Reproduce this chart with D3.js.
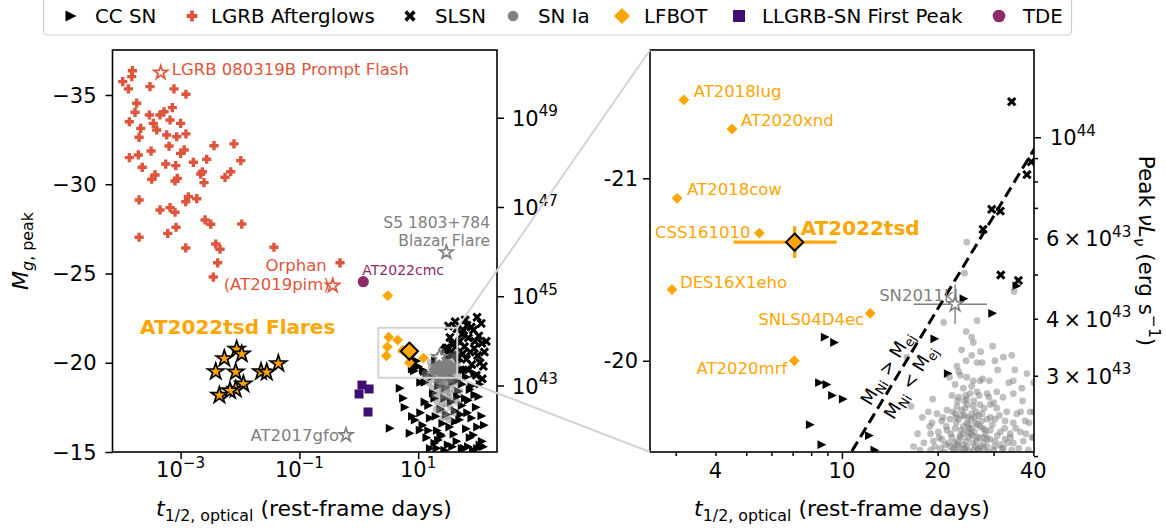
<!DOCTYPE html>
<html>
<head>
<meta charset="utf-8">
<script src="https://cdn.jsdelivr.net/npm/d3@7/dist/d3.min.js"></script>
<style>
  html, body { margin: 0; padding: 0; background: #fff; }
  svg text { font-family: "DejaVu Sans", "Liberation Sans", Arial, sans-serif; }
</style>
</head>
<body>
<svg id="chart" width="1166" height="531"></svg>
<script>
// ---------------------------------------------------------------------------
// Transient samples: each entry is [t_1/2 (rest-frame days), peak M_g]
// ---------------------------------------------------------------------------
const ccSN = [
  [8.86,-20.13],[9.48,-20.10],[8.5,-19.88],[8.97,-19.87],[9.34,-19.81],[10.1,-19.79],
  [7.95,-19.65],[8.65,-19.54],[24.2,-20.34],[29.8,-20.26],[19.6,-20.12],[21.6,-19.93],
  [12.2,-19.59],[12.7,-19.51],[35.5,-20.41],
  [4.97,-18.57],[5.65,-18.01],[3.37,-16.33],[8.9,-16.79],[7.3,-16.05],[10.8,-16.23],
  [22,-15.67],[20.7,-15.21],[126,-15.3],[85.7,-15.95],[118,-17.02],
  [6,-17.5],[8,-17.0],[11,-17.2],[12,-16.5],[13,-18.9],[14,-15.8],[15,-17.6],[16,-16.9],
  [17,-19.2],[18,-18.3],[19,-15.5],[20,-17.0],[21,-16.2],[22,-18.7],[24,-17.4],[25,-15.9],
  [26,-16.6],[28,-18.0],[30,-17.1],[32,-15.4],[34,-16.4],[36,-17.8],[38,-18.9],[40,-16.0],
  [42,-17.3],[45,-15.6],[48,-18.4],[50,-16.8],[55,-17.6],[60,-15.2],[65,-16.3],[70,-17.9],
  [75,-15.8],[80,-16.9],[90,-18.2],[100,-16.4],[110,-15.4],[27,-19.3],[33,-19.4],[45,-19.0],
  [55,-18.8],[65,-19.2],[75,-18.5],[95,-17.5],[105,-18.1],[60,-19.6],[50,-20.1],[44,-20.5],
  [16,-15.2],[28,-15.1],[38,-15.3],[55,-15.2],[70,-15.3],[85,-15.1],[100,-15.2],[120,-15.6],
  [11,-18.9],[14,-19.3],[13,-17.8],[19,-18.0],[23,-19.0],[29,-18.6],[35,-19.2],[52,-17.1],
  [62,-18.0],[80,-18.7],[90,-19.4],[110,-18.8],[130,-16.5],[68,-17.2],[42,-16.7],[24,-16.0],
  [15,-16.2],[46,-18.1]
];

const lgrbAfterglows = [
  [1.54e-4,-36.36],[1.50e-4,-36.03],[1.06e-4,-35.75],[1.32e-4,-35.34],[3.05e-4,-35.47],
  [7.74e-4,-35.34],[1.23e-3,-35.04],[1.82e-4,-34.54],[1.71e-4,-34.03],[7.25e-4,-34.29],
  [5.26e-4,-34.06],[2.97e-4,-33.88],[4.50e-4,-33.88],[1.37e-4,-33.50],[2.13e-4,-33.13],
  [3.47e-4,-33.41],[6.64e-4,-33.60],[1.00e-3,-33.41],[3.96e-4,-33.04],[5.83e-4,-32.76],
  [8.59e-4,-32.66],[1.23e-3,-32.82],[2.00e-4,-32.63],[6.38e-4,-32.14],[3.65e-3,-32.16],
  [7.92e-3,-32.26],[1.15e-3,-31.92],[1.00e-3,-31.73],[3.18e-4,-31.86],[1.94e-4,-31.64],
  [1.37e-4,-31.49],[2.75e-3,-31.40],[1.03e-2,-31.32],[5.61e-4,-31.13],[8.28e-4,-31.04],
  [1.64e-3,-31.23],[2.26e-4,-30.95],[2.32e-3,-30.70],[2.18e-3,-30.57],[6.97e-3,-30.70],
  [5.59e-3,-30.39],[3.71e-4,-30.52],[3.26e-4,-30.28],[8.80e-4,-30.33],[8.05e-4,-30.18],
  [2.48e-3,-30.09],[2.00e-4,-29.12],[1.35e-3,-29.30],[1.87e-3,-29.19],[1.22e-3,-29.02],
  [4.50e-4,-28.56],[6.64e-4,-28.69],[8.05e-4,-28.43],[2.58e-3,-28.00],[3.21e-3,-27.76],
  [1.07e-2,-27.77],[8.37e-4,-27.59],[6.07e-4,-27.25],[2.00e-4,-27.03],[1.22e-3,-26.43],
  [3.90e-3,-26.65],[4.61e-3,-26.36],[3.73e-2,-26.47],[0.483,-25.6],[3.54e-3,-24.8],
  [4.2e-3,-25.6]
];

const slsn = [
  [34.2,-21.42],[38.2,-21.02],[39.4,-21.09],[29.6,-20.83],[31.5,-20.82],[27.8,-20.72],
  [31.6,-20.47],[35.9,-20.44],
  [98,-22.55],[66,-22.1],[32.4,-22.06],[85,-21.83],[118,-21.09],[45,-21.9],[55,-21.6],
  [70,-21.4],[90,-21.2],[60,-20.9],[75,-20.6],[100,-20.4],[50,-21.2],[110,-20.0],[80,-19.9],
  [65,-20.2],[130,-20.6],[42,-22.3],[43,-20.9],[48,-20.3],[52,-19.6],[58,-21.8],[105,-21.5],
  [125,-19.8],[95,-19.3],[70,-19.6],[140,-21.2],[62,-22.4],[78,-22.0],[115,-22.2],[88,-20.8],
  [56,-20.5],[120,-19.1]
];

const snIa = [
  [24.7,-20.65],[24.3,-20.48],[34.8,-20.38],[20.9,-20.21],[26.6,-20.22],[24.6,-20.16],
  [25.6,-20.13],[25.9,-20.10],[23.8,-20.06],[25.6,-20.03],[32.2,-20.02],[34.2,-20.03],
  [30.3,-20.00],[23.0,-19.97],[24.6,-20.00],[26.6,-19.99],[27.6,-19.99],[16.0,-20.02],
  [23.3,-19.94],[24.7,-19.91],[25.9,-19.89],[27.2,-19.89],[29.1,-19.89],[34.6,-19.89],
  [36.8,-19.85],[22.7,-19.87],[24.1,-19.85],[25.6,-19.86],[26.6,-19.83],[28.6,-19.82],
  [30.7,-19.83],[32.1,-19.80],[34.6,-19.82],[22.2,-19.81],[23.3,-19.80],[24.7,-19.79],
  [18.7,-19.72],[19.9,-19.71],[21.4,-19.73],[23.0,-19.75],[24.4,-19.74],[25.9,-19.75],
  [27.2,-19.76],[29.3,-19.76],[30.7,-19.74],[33.0,-19.72],[35.5,-19.71],[39.1,-19.72],
  [19.2,-19.66],[20.6,-19.67],[21.9,-19.68],[23.3,-19.68],[25.0,-19.69],[26.9,-19.70],
  [28.6,-19.68],[30.3,-19.68],[32.6,-19.67],[34.6,-19.66],[37.7,-19.67],[19.0,-19.60],
  [20.1,-19.61],[21.4,-19.62],[22.7,-19.63],[24.1,-19.64],[25.6,-19.63],[27.2,-19.64],
  [29.3,-19.62],[31.5,-19.61],[33.8,-19.60],[36.4,-19.61],[39.6,-19.58],[18.1,-19.55],
  [19.4,-19.56],[20.6,-19.57],[22.2,-19.58],[23.6,-19.58],[25.0,-19.58],[26.6,-19.58],
  [28.6,-19.57],[30.3,-19.56],[32.6,-19.57],[34.6,-19.55],[37.2,-19.56],[17.6,-19.51],
  [19.0,-19.51],[20.4,-19.52],[21.9,-19.53],[23.3,-19.53],[24.7,-19.53],[26.3,-19.53],
  [27.9,-19.52],[30.0,-19.51],[32.2,-19.52],[34.2,-19.51],[38.6,-19.51],
  [23.9,-19.70],[25.4,-19.60],[23.2,-19.56],[26.3,-19.66],[21.1,-19.54],[28.2,-19.62],
  [24.5,-19.81],[25.0,-19.65],[22.3,-19.72],[29.3,-19.69],[31.5,-19.54],[40.1,-19.88],
  [40.1,-19.58],[40.1,-19.72],
  [21.0,-19.50],[21.6,-19.55],[22.0,-19.60],[22.5,-19.52],[22.9,-19.66],[23.4,-19.50],
  [23.7,-19.62],[24.0,-19.54],[24.3,-19.70],[24.6,-19.56],[24.9,-19.61],[25.2,-19.50],
  [25.5,-19.68],[25.8,-19.55],[26.1,-19.61],[26.4,-19.72],[26.8,-19.52],[27.1,-19.58],
  [27.5,-19.67],[27.9,-19.55],[28.3,-19.60],[28.8,-19.50],[29.2,-19.57],[29.7,-19.65],
  [30.2,-19.53],[30.8,-19.59],[31.3,-19.70],[31.9,-19.52],[32.5,-19.63],[33.2,-19.55],
  [21.3,-19.64],[22.8,-19.71],[23.1,-19.78],[24.8,-19.76],[25.3,-19.82],[26.0,-19.78],
  [27.0,-19.81],[28.0,-19.74],[29.0,-19.80],[30.0,-19.77],[20.2,-19.58],[20.8,-19.69],
  [19.6,-19.53],[18.9,-19.64],[22.4,-19.51],[24.2,-19.51],[26.9,-19.51],[28.6,-19.53],
  [33.9,-19.58],[35.2,-19.63],[36.0,-19.52],[37.9,-19.60],[38.8,-19.66],[17.3,-19.60],
  [16.8,-19.53],[27.7,-19.90],[23.6,-19.92],[30.9,-19.95],[35.0,-19.95],[37.0,-19.78],
  [19.3,-19.79],[17.9,-19.69],[16.5,-19.75],[21.8,-19.91],[33.5,-19.88],[36.5,-19.72],
  [29.8,-20.08],[27.3,-20.05],[38.2,-19.93],
  [22.6,-19.55],[23.5,-19.59],[24.4,-19.52],[25.1,-19.63],[25.9,-19.51],[26.5,-19.56],
  [27.3,-19.53],[28.0,-19.58],[22.9,-19.69],[23.8,-19.73],[24.7,-19.66],[25.6,-19.71],
  [26.7,-19.65],[27.6,-19.71],[24.1,-19.60],[25.7,-19.59],[23.0,-19.54],[26.2,-19.69],
  [27.8,-19.63],[24.3,-19.78],
  [18,-19.4],[22,-19.45],[25,-19.3],[28,-19.4],[32,-19.35],[20,-19.2],[24,-19.15],[27,-19.25],
  [30,-19.1],[35,-19.2],[16,-19.3],[19,-19.0],[23,-18.95],[26,-19.05],[29,-18.9],[33,-19.0],
  [38,-19.1],[21,-18.8],[25,-18.7],[28,-18.75],[31,-18.6],[36,-18.8],[17,-18.6],[22,-18.5],
  [26,-18.4],[30,-18.45],[34,-18.3],[40,-18.5],[19,-18.2],[24,-18.15],[27,-18.0],[32,-18.1],
  [37,-17.9],[21,-17.8],[25,-17.6],[29,-17.7],[35,-17.5],[23,-17.3],[28,-17.2],[31,-17.0],
  [26,-16.9],[44,-18.9],[48,-19.2],[42,-19.4],[15,-18.9],[14,-19.2],[13,-19.4],[20,-17.4],
  [33,-16.8],[45,-17.8],[39,-17.2],[50,-18.4],[42,-20.3],[46,-19.9],[44,-20.6],
  [23,-19.35],[27,-19.45],[30,-19.3],[21,-19.1],[25,-18.9],[28,-19.15]
];

// Luminous fast blue optical transients (LFBOTs)
const lfbot = [
  { name: "AT2018lug",  t: 3.18,  M: -21.43 },
  { name: "AT2020xnd",  t: 4.51,  M: -21.27 },
  { name: "AT2018cow",  t: 3.03,  M: -20.89 },
  { name: "CSS161010",  t: 5.5,   M: -20.70 },
  { name: "DES16X1eho", t: 2.92,  M: -20.39 },
  { name: "SNLS04D4ec", t: 12.27, M: -20.26 },
  { name: "AT2020mrf",  t: 7.08,  M: -20.00 },
  { name: "",           t: 3.07,  M: -23.76 }
];

// AT2022tsd main light curve with its uncertainties
const at2022tsd = { name: "AT2022tsd", t: 7.1, tLo: 4.56, tHi: 9.62, M: -20.65, Merr: 0.087 };

// AT2022tsd flares
const tsdFlares = [
  [8.79e-3,-20.75],[1.07e-2,-20.49],[5.45e-3,-20.23],[3.90e-3,-19.50],[8.47e-3,-19.48],
  [2.26e-2,-19.50],[2.82e-2,-19.47],[4.42e-2,-19.95],[1.14e-2,-18.81],[8.47e-3,-18.51],
  [6.79e-3,-18.43],[4.49e-3,-18.18]
];

const llgrbFirstPeak = [[1.13,-18.75],[1.49,-18.53],[1.01,-18.25],[1.43,-17.24]];

const tde = [{ name: "AT2022cmc", t: 1.19, M: -24.54 }];

// Individually highlighted events (drawn as open stars)
const namedEvents = [
  { name: "LGRB 080319B Prompt Flash", t: 4.62e-4, M: -36.25, kind: "lgrb" },
  { name: "Orphan|(AT2019pim)",        t: 0.364,   M: -24.32, kind: "lgrb" },
  { name: "S5 1803+784|Blazar Flare",  t: 29.8,    M: -26.19, kind: "other" },
  { name: "AT2017gfo",                 t: 0.609,   M: -15.95, kind: "other" }
];
const sn2011kl = { name: "SN2011kl", t: 22.7, tLo: 16.8, tHi: 28.6, M: -20.31, Merr: 0.107 };

// Boundary between Ni-powered and ejecta-limited regimes
const niEjectaLine = [[9.5,-19.35],[45,-21.30]];

// Region of the overview panel that is enlarged on the right
const zoomRegion = { t: [2.13, 45.5], M: [-19.16, -21.96] };

// Axis ticks
const leftMagTicks  = [-35, -30, -25, -20, -15];
const leftTimeTicks = [1e-3, 1e-1, 1e1];
const leftLumTicks  = [1e43, 1e45, 1e47, 1e49];
const rightMagTicks = [-21, -20];
const rightTimeTicks = [3, 4, 5, 6, 7, 8, 9, 10, 20, 30, 40];
const rightTimeLabels = { 4: "4", 10: "10", 20: "20", 40: "40" };
const rightLumTicks = [2e43, 3e43, 4e43, 5e43, 6e43, 7e43, 8e43, 9e43, 1e44];
const rightLumLabels = { 3e43: "3", 4e43: "4", 6e43: "6", 1e44: "" };

const legendItems = ["CC SN", "LGRB Afterglows", "SLSN", "SN Ia", "LFBOT", "LLGRB-SN First Peak", "TDE"];

// ---------------------------------------------------------------------------
const svg = d3.select("#chart");
const COL = {
  lgrb: "#df553c", gray: "#808080", orange: "#ffa500",
  llgrb: "#3f0f72", tde: "#8e2a6a", inset: "#d3d3d3"
};
const FS = { tick: 21, label: 22, legend: 19.8, ann: 16.5, bold: 20 };

// peak nu L_nu (erg/s) from absolute g magnitude
const LUM_ZP = 35.51;
const magToLum = m => Math.pow(10, LUM_ZP - 0.4 * m);

// marker shapes
const triRight = s => `M${s},0L${-s},${-s}L${-s},${s}Z`;
const plusPath = (a, b) => `M${-b},${-a}H${b}V${-b}H${a}V${b}H${b}V${a}H${-b}V${b}H${-a}V${-b}H${-b}Z`;
function xPath(a, b) {
  const pts = [[-b,-a],[b,-a],[b,-b],[a,-b],[a,b],[b,b],[b,a],[-b,a],[-b,b],[-a,b],[-a,-b],[-b,-b]];
  const c = Math.SQRT1_2;
  return "M" + pts.map(([x, y]) => `${(x - y) * c},${(x + y) * c}`).join("L") + "Z";
}
function starPath(R) {
  const r = R * 0.382, p = [];
  for (let i = 0; i < 10; i++) {
    const a = -Math.PI / 2 + i * Math.PI / 5, rr = i % 2 ? r : R;
    p.push(`${rr * Math.cos(a)},${rr * Math.sin(a)}`);
  }
  return "M" + p.join("L") + "Z";
}
const diamond = d => `M0,${-d}L${d},0L0,${d}L${-d},0Z`;
const square = s => `M${-s / 2},${-s / 2}h${s}v${s}h${-s}Z`;
const disc = r => `M${r},0A${r},${r} 0 1 1 ${-r},0A${r},${r} 0 1 1 ${r},0Z`;

// text with italics / sub- and superscripts
function rich(parent, x, y, segs, fs, opts = {}) {
  const t = parent.append("text").attr("x", x).attr("y", y).attr("font-size", fs)
    .attr("text-anchor", opts.anchor || "start").attr("fill", opts.fill || "#000");
  if (opts.weight) t.attr("font-weight", opts.weight);
  if (opts.transform) t.attr("transform", opts.transform);
  let shift = 0;
  segs.forEach(([s, mode = ""]) => {
    const sub = mode.includes("sub"), sup = mode.includes("sup");
    const target = sub ? 0.24 * fs : sup ? -0.45 * fs : 0;
    const ts = t.append("tspan").text(s).attr("font-size", (sub || sup) ? fs * 0.72 : fs)
      .attr("dy", target - shift);
    if (mode.includes("it")) ts.attr("font-style", "italic");
    shift = target;
  });
  return t;
}

function makePanel(id, box, xDom, yDom) {
  const x = d3.scaleLog().domain(xDom).range([box.x0, box.x1]);
  const y = d3.scaleLinear().domain(yDom).range([box.y1, box.y0]);
  const yL = d3.scaleLog().domain(yDom.map(magToLum)).range([box.y1, box.y0]);
  svg.append("clipPath").attr("id", id).append("rect")
    .attr("x", box.x0).attr("y", box.y0).attr("width", box.x1 - box.x0).attr("height", box.y1 - box.y0);
  const plot = svg.append("g").attr("clip-path", `url(#${id})`);
  return { x, y, yL, box, plot };
}

function scatter(p, data, d, style) {
  p.plot.append("g").selectAll("path").data(data).join("path")
    .attr("d", d)
    .attr("transform", v => `translate(${p.x(v[0])},${p.y(v[1])})`)
    .attr("fill", style.fill || "none")
    .attr("fill-opacity", style.opacity ?? 1)
    .attr("stroke", style.stroke || "none")
    .attr("stroke-width", style.sw || 0)
    .attr("stroke-linejoin", "miter");
}

function drawSamples(p) {
  scatter(p, lgrbAfterglows, plusPath(4.6, 1.7), { fill: COL.lgrb });
  scatter(p, ccSN, triRight(4.4), { fill: "#000" });
  scatter(p, slsn, xPath(5.2, 1.5), { fill: "#000" });
  p.plot.append("g").selectAll("circle").data(snIa).join("circle")
    .attr("cx", v => p.x(v[0])).attr("cy", v => p.y(v[1])).attr("r", 3.4)
    .attr("fill", COL.gray).attr("fill-opacity", 0.5);
  // SN2011kl with uncertainties
  const g11 = p.plot.append("g");
  g11.append("line").attr("x1", p.x(sn2011kl.tLo)).attr("x2", p.x(sn2011kl.tHi))
    .attr("y1", p.y(sn2011kl.M)).attr("y2", p.y(sn2011kl.M)).attr("stroke", COL.gray).attr("stroke-width", 1.4);
  g11.append("line").attr("x1", p.x(sn2011kl.t)).attr("x2", p.x(sn2011kl.t))
    .attr("y1", p.y(sn2011kl.M - sn2011kl.Merr)).attr("y2", p.y(sn2011kl.M + sn2011kl.Merr))
    .attr("stroke", COL.gray).attr("stroke-width", 1.4);
  scatter(p, [[sn2011kl.t, sn2011kl.M]], starPath(8), { fill: "#fff", stroke: COL.gray, sw: 1.6 });

  scatter(p, llgrbFirstPeak, square(9), { fill: COL.llgrb });
  scatter(p, tde.map(d => [d.t, d.M]), disc(5.6), { fill: COL.tde });
  scatter(p, lfbot.map(d => [d.t, d.M]), diamond(5.4), { fill: COL.orange });
  scatter(p, tsdFlares, starPath(8.6), { fill: COL.orange, stroke: "#000", sw: 1.7 });
  namedEvents.forEach(e => {
    scatter(p, [[e.t, e.M]], starPath(7.2),
      { fill: "#fff", stroke: e.kind === "lgrb" ? COL.lgrb : COL.gray, sw: 1.7 });
  });
  // AT2022tsd with error bars
  const gt = p.plot.append("g");
  gt.append("line").attr("x1", p.x(at2022tsd.tLo)).attr("x2", p.x(at2022tsd.tHi))
    .attr("y1", p.y(at2022tsd.M)).attr("y2", p.y(at2022tsd.M)).attr("stroke", COL.orange).attr("stroke-width", 3.4);
  gt.append("line").attr("x1", p.x(at2022tsd.t)).attr("x2", p.x(at2022tsd.t))
    .attr("y1", p.y(at2022tsd.M - at2022tsd.Merr)).attr("y2", p.y(at2022tsd.M + at2022tsd.Merr))
    .attr("stroke", COL.orange).attr("stroke-width", 3.4);
  scatter(p, [[at2022tsd.t, at2022tsd.M]], diamond(8.6), { fill: COL.orange, stroke: "#000", sw: 2 });
}

function spines(p) {
  const b = p.box;
  svg.append("rect").attr("x", b.x0).attr("y", b.y0).attr("width", b.x1 - b.x0).attr("height", b.y1 - b.y0)
    .attr("fill", "none").attr("stroke", "#000").attr("stroke-width", 1.6);
}

function ticks(axisFn, scale, values, size, tx, ty) {
  const g = svg.append("g").attr("transform", `translate(${tx},${ty})`)
    .call(axisFn(scale).tickValues(values).tickSize(size).tickFormat(""));
  g.select(".domain").remove();
  g.selectAll(".tick line").attr("stroke", "#000").attr("stroke-width", 1.5);
  return g;
}

// ---------------------------------------------------------------------------
// Overview panel
const L = makePanel("clipL", { x0: 112.5, x1: 497, y0: 50, y1: 452 }, [7.13e-5, 212.3], [-15, -37.52]);
drawSamples(L);

// enlarged region outline
L.plot.append("rect")
  .attr("x", L.x(zoomRegion.t[0])).attr("y", L.y(zoomRegion.M[1]))
  .attr("width", L.x(zoomRegion.t[1]) - L.x(zoomRegion.t[0]))
  .attr("height", L.y(zoomRegion.M[0]) - L.y(zoomRegion.M[1]))
  .attr("fill", "none").attr("stroke", COL.inset).attr("stroke-width", 2);

// annotations, overview panel
const annL = svg.append("g").attr("font-size", FS.ann);
{
  const e0 = namedEvents[0];
  annL.append("text").attr("x", L.x(e0.t) + 11).attr("y", L.y(e0.M) + 2).attr("fill", COL.lgrb).text(e0.name);
  const e1 = namedEvents[1], [o1, o2] = e1.name.split("|");
  annL.append("text").attr("x", L.x(e1.t) - 6).attr("y", L.y(e1.M) - 15).attr("text-anchor", "end")
    .attr("fill", COL.lgrb).text(o1);
  annL.append("text").attr("x", L.x(e1.t) - 3).attr("y", L.y(e1.M) + 4).attr("text-anchor", "end")
    .attr("fill", COL.lgrb).text(o2);
  const e2 = namedEvents[2], [s1, s2] = e2.name.split("|");
  annL.append("text").attr("x", 490).attr("y", L.y(e2.M) - 24).attr("text-anchor", "end")
    .attr("font-size", 15.5).attr("fill", COL.gray).text(s1);
  annL.append("text").attr("x", 490).attr("y", L.y(e2.M) - 6).attr("text-anchor", "end")
    .attr("font-size", 15.5).attr("fill", COL.gray).text(s2);
  const e3 = namedEvents[3];
  annL.append("text").attr("x", L.x(e3.t) - 7).attr("y", L.y(e3.M) + 6).attr("text-anchor", "end")
    .attr("fill", COL.gray).text(e3.name);
  annL.append("text").attr("x", L.x(tde[0].t) - 1).attr("y", L.y(tde[0].M) - 7)
    .attr("fill", COL.tde).attr("font-size", 14).text(tde[0].name);
  annL.append("text").attr("x", 140).attr("y", 334).attr("fill", COL.orange)
    .attr("font-weight", "bold").attr("font-size", FS.bold).text("AT2022tsd Flares");
}
spines(L);

// overview axes
ticks(d3.axisLeft, L.y, leftMagTicks, 7, L.box.x0, 0);
leftMagTicks.forEach(v => svg.append("text").attr("x", L.box.x0 - 16).attr("y", L.y(v)).attr("dy", "0.36em")
  .attr("text-anchor", "end").attr("font-size", FS.tick).text("\u2212" + Math.abs(v)));
ticks(d3.axisBottom, L.x, leftTimeTicks, 7, 0, L.box.y1);
leftTimeTicks.forEach(v => {
  const e = Math.round(Math.log10(v));
  rich(svg, L.x(v), 477, [["10"], [(e < 0 ? "\u2212" : "") + Math.abs(e), "sup"]], FS.tick, { anchor: "middle" });
});
ticks(d3.axisRight, L.yL, leftLumTicks, 7, L.box.x1, 0);
leftLumTicks.forEach(v => {
  const e = Math.round(Math.log10(v));
  rich(svg, L.box.x1 + 15, L.yL(v) + 8, [["10"], [String(e), "sup"]], FS.tick);
});
rich(svg, 304, 516, [["t", "it"], ["1/2, optical", "sub"], [" (rest-frame days)"]], FS.label, { anchor: "middle" });
rich(svg, 0, 0, [["M", "it"], ["g", "sub it"], [", peak", "sub"]], FS.label,
  { anchor: "middle", transform: "translate(28,251) rotate(-90)" });

// ---------------------------------------------------------------------------
// Enlarged panel
const R = makePanel("clipR", { x0: 650, x1: 1034, y0: 50, y1: 452 }, [2.49, 40.2], [-19.5, -21.703]);
drawSamples(R);

// Ni / ejecta mass boundary
R.plot.append("path")
  .attr("d", d3.line().x(v => R.x(v[0])).y(v => R.y(v[1]))(niEjectaLine))
  .attr("fill", "none").attr("stroke", "#000").attr("stroke-width", 3).attr("stroke-dasharray", "11,5.5");
{
  const [a, b] = niEjectaLine;
  const ax = R.x(a[0]), ay = R.y(a[1]), bx = R.x(b[0]), by = R.y(b[1]);
  const ang = Math.atan2(by - ay, bx - ax) * 180 / Math.PI;
  const tMid = 15.0, frac = (Math.log10(tMid) - Math.log10(a[0])) / (Math.log10(b[0]) - Math.log10(a[0]));
  const mx = ax + frac * (bx - ax), my = ay + frac * (by - ay);
  const g = svg.append("g").attr("transform", `translate(${mx},${my}) rotate(${ang})`);
  rich(g, 0, -7, [["M"], ["Ni", "sub"], [" > "], ["M"], ["ej", "sub"]], 18, { anchor: "middle" });
  rich(g, 0, 20, [["M"], ["Ni", "sub"], [" < "], ["M"], ["ej", "sub"]], 18, { anchor: "middle" });
}

// LFBOT labels
const labelPlacement = {
  "AT2018lug":  { dx: 10, dy: -3,  anchor: "start" },
  "AT2020xnd":  { dx: 9,  dy: -3,  anchor: "start" },
  "AT2018cow":  { dx: 10, dy: -3,  anchor: "start" },
  "CSS161010":  { dx: -9, dy: 5,   anchor: "end" },
  "DES16X1eho": { dx: 8,  dy: -2,  anchor: "start" },
  "SNLS04D4ec": { dx: -6, dy: 12,  anchor: "end" },
  "AT2020mrf":  { dx: -7, dy: 13,  anchor: "end" }
};
const annR = svg.append("g").attr("font-size", FS.ann).attr("fill", COL.orange);
lfbot.filter(d => labelPlacement[d.name]).forEach(d => {
  const pl = labelPlacement[d.name];
  annR.append("text").attr("x", R.x(d.t) + pl.dx).attr("y", R.y(d.M) + pl.dy)
    .attr("text-anchor", pl.anchor).text(d.name);
});
annR.append("text").attr("x", R.x(at2022tsd.t) + 6).attr("y", R.y(at2022tsd.M) - 7)
  .attr("font-weight", "bold").attr("font-size", FS.bold).text(at2022tsd.name);
svg.append("text").attr("x", R.x(sn2011kl.t) + 3).attr("y", R.y(sn2011kl.M) - 3)
  .attr("text-anchor", "end").attr("font-size", FS.ann).attr("fill", COL.gray).text(sn2011kl.name);
spines(R);

// enlarged panel axes
ticks(d3.axisLeft, R.y, rightMagTicks, 7, R.box.x0, 0);
rightMagTicks.forEach(v => svg.append("text").attr("x", R.box.x0 - 12).attr("y", R.y(v)).attr("dy", "0.36em")
  .attr("text-anchor", "end").attr("font-size", FS.tick).text(String(v)));
ticks(d3.axisBottom, R.x, rightTimeTicks.filter(v => v === 10), 7, 0, R.box.y1);
ticks(d3.axisBottom, R.x, rightTimeTicks.filter(v => v !== 10), 4, 0, R.box.y1);
rightTimeTicks.filter(v => rightTimeLabels[v]).forEach(v =>
  svg.append("text").attr("x", R.x(v)).attr("y", 478).attr("text-anchor", "middle")
    .attr("font-size", FS.tick).text(rightTimeLabels[v]));
ticks(d3.axisRight, R.yL, rightLumTicks.filter(v => v === 1e44), 7, R.box.x1, 0);
ticks(d3.axisRight, R.yL, rightLumTicks.filter(v => v !== 1e44), 4, R.box.x1, 0);
rightLumTicks.filter(v => v in rightLumLabels).forEach(v => {
  const m = rightLumLabels[v];
  if (m === "") rich(svg, R.box.x1 + 16, R.yL(v) + 8, [["10"], ["44", "sup"]], FS.tick);
  else rich(svg, R.box.x1 + 12, R.yL(v) + 8, [[m + "\u2009\u00d7\u200910"], ["43", "sup"]], FS.tick);
});
rich(svg, 842, 516, [["t", "it"], ["1/2, optical", "sub"], [" (rest-frame days)"]], FS.label, { anchor: "middle" });
rich(svg, 0, 0, [["Peak "], ["\u03bd", "it"], ["L", "it"], ["\u03bd", "sub it"], [" (erg s"], ["\u22121", "sup"], [")"]],
  21.5, { anchor: "middle", transform: "translate(1139,251) rotate(90)" });

// connectors from the outlined region to the enlarged panel
const cx = L.x(zoomRegion.t[1]);
[[L.y(zoomRegion.M[1]), R.box.y0], [L.y(zoomRegion.M[0]), R.box.y1]].forEach(([y1, y2]) =>
  svg.append("line").attr("x1", cx).attr("y1", y1).attr("x2", R.box.x0).attr("y2", y2)
    .attr("stroke", COL.inset).attr("stroke-width", 2));

// ---------------------------------------------------------------------------
// Legend
const lg = svg.append("g");
lg.append("rect").attr("x", 43.5).attr("y", -6).attr("width", 1028).attr("height", 41).attr("rx", 4)
  .attr("fill", "#fff").attr("fill-opacity", 0.85).attr("stroke", "#cccccc").attr("stroke-width", 1.2);
const legendMarks = [
  { d: triRight(5.5), fill: "#000" },
  { d: plusPath(5.4, 1.9), fill: COL.lgrb },
  { d: xPath(6.2, 1.8), fill: "#000" },
  { d: disc(5.3), fill: COL.gray },
  { d: diamond(8), fill: COL.orange },
  { d: square(12), fill: COL.llgrb },
  { d: disc(6.3), fill: COL.tde }
];
const legendSlots = [[71, 95], [192, 211], [410, 435], [513, 538], [622, 644], [739, 762], [999, 1023]];
legendItems.forEach((name, i) => {
  const [mx, tx] = legendSlots[i];
  lg.append("path").attr("d", legendMarks[i].d).attr("fill", legendMarks[i].fill)
    .attr("transform", `translate(${mx},16)`);
  lg.append("text").attr("x", tx).attr("y", 23).attr("font-size", FS.legend).text(name);
});
</script>
</body>
</html>
